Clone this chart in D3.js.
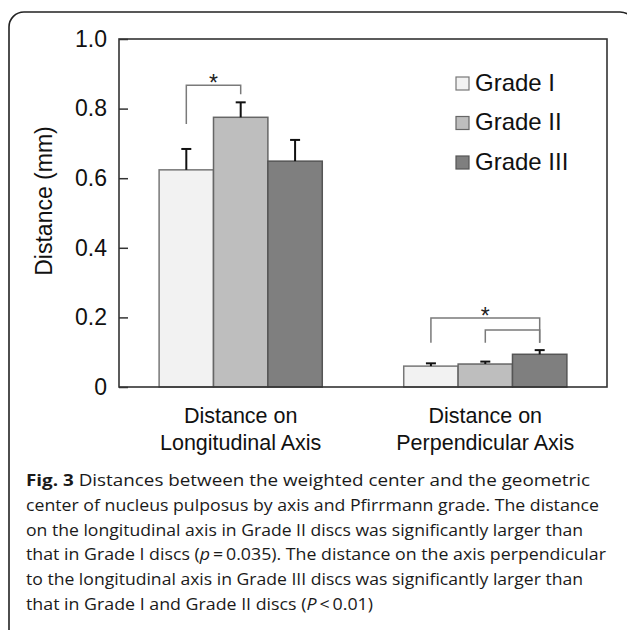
<!DOCTYPE html>
<html>
<head>
<meta charset="utf-8">
<script src="https://cdn.jsdelivr.net/npm/d3@7"></script>
<style>
  body { margin: 0; background: #fff; }
  svg { display: block; }
</style>
</head>
<body>
<div id="chart"></div>
<script>
'use strict';

// values
const categories = [["Distance on", "Longitudinal Axis"], ["Distance on", "Perpendicular Axis"]];
const grades = ["Grade I", "Grade II", "Grade III"];
const longitudinalMeans = [0.624, 0.775, 0.649];
const longitudinalErrors = [0.060, 0.043, 0.061];
const perpendicularMeans = [0.060, 0.066, 0.094];
const perpendicularErrors = [0.008, 0.007, 0.012];
const yTicks = [0, 0.2, 0.4, 0.6, 0.8, 1.0];
// significance brackets: category index, grade from/to, bar level, leg ends
const brackets = [
  { cat: 0, from: 0, to: 1, level: 0.867, legFrom: 0.756, legTo: 0.841, star: true },
  { cat: 1, from: 0, to: 2, level: 0.198, legFrom: 0.127, legTo: 0.127, star: true },
  { cat: 1, from: 1, to: 2, level: 0.164, legFrom: 0.127, legTo: 0.127, star: false }
];
const captionLines = [
  [["Fig. 3", "b"], [" Distances between the weighted center and the geometric", ""]],
  [["center of nucleus pulposus by axis and Pfirrmann grade. The distance", ""]],
  [["on the longitudinal axis in Grade II discs was significantly larger than", ""]],
  [["that in Grade I discs (", ""], ["p", "i"], ["\u2009=\u20090.035). The distance on the axis perpendicular", ""]],
  [["to the longitudinal axis in Grade III discs was significantly larger than", ""]],
  [["that in Grade I and Grade II discs (", ""], ["P", "i"], ["\u2009<\u20090.01)", ""]]
];
const captionWidths = [564, 573, 557, 580, 557, 347];

const fills = ["#f2f2f2", "#bebebe", "#7f7f7f"];
const strokes = ["#777", "#666", "#555"];

const width = 627, height = 630;
const margin = { left: 119, top: 39, right: 20, bottom: 243 };
const plotW = width - margin.left - margin.right;
const plotH = height - margin.top - margin.bottom;

const svg = d3.select('#chart').append('svg')
  .attr('width', width).attr('height', height);

// outer rounded frame
svg.append('rect')
  .attr('x', 9).attr('y', 12)
  .attr('width', 626).attr('height', 640)
  .attr('rx', 15).attr('ry', 15)
  .attr('fill', 'none').attr('stroke', '#222').attr('stroke-width', 1.6);

const g = svg.append('g').attr('transform', `translate(${margin.left},${margin.top})`);

const x0 = d3.scaleBand().domain(d3.range(categories.length))
  .range([0, plotW]).paddingInner(0.333).paddingOuter(0.164);
const x1 = d3.scaleBand().domain(d3.range(grades.length))
  .range([0, x0.bandwidth()]).padding(0);
const y = d3.scaleLinear().domain([0, 1]).range([plotH, 0]);

const means = [longitudinalMeans, perpendicularMeans];
const errors = [longitudinalErrors, perpendicularErrors];

let rows = [];
categories.forEach((c, ci) => {
  grades.forEach((gr, gi) => {
    rows.push({ ci: ci, gi: gi, mean: means[ci][gi], err: errors[ci][gi] });
  });
});

// y axis with inward ticks
const yAxis = d3.axisLeft(y).tickValues(yTicks)
  .tickSizeInner(-9).tickSizeOuter(0).tickPadding(12)
  .tickFormat(d => d === 0 ? "0" : d3.format(".1f")(d));
const ya = g.append('g').call(yAxis);
ya.select('.domain').remove();
ya.selectAll('line').attr('stroke', '#333').attr('stroke-width', 1.5);
ya.selectAll('text')
  .attr('font-family', 'Liberation Sans, Arial, sans-serif')
  .attr('font-size', 23).attr('fill', '#111');

// bars
const barX = d => x0(d.ci) + x1(d.gi);
g.selectAll('.bar').data(rows).enter().append('rect')
  .attr('class', 'bar')
  .attr('x', barX)
  .attr('y', d => y(d.mean))
  .attr('width', x1.bandwidth())
  .attr('height', d => y(0) - y(d.mean))
  .attr('fill', d => fills[d.gi])
  .attr('stroke', d => strokes[d.gi])
  .attr('stroke-width', 1.5);

// error bars (upper only)
const cx = d => barX(d) + x1.bandwidth() / 2;
g.selectAll('.err').data(rows).enter().append('line')
  .attr('x1', cx).attr('x2', cx)
  .attr('y1', d => y(d.mean)).attr('y2', d => y(d.mean + d.err))
  .attr('stroke', '#111').attr('stroke-width', 2);
g.selectAll('.cap').data(rows).enter().append('line')
  .attr('x1', d => cx(d) - 5).attr('x2', d => cx(d) + 5)
  .attr('y1', d => y(d.mean + d.err)).attr('y2', d => y(d.mean + d.err))
  .attr('stroke', '#111').attr('stroke-width', 2);

// significance brackets
const gx = (ci, gi) => x0(ci) + x1(gi) + x1.bandwidth() / 2;
g.selectAll('.bracket').data(brackets).enter().append('path')
  .attr('d', b => {
    const xa = gx(b.cat, b.from), xb = gx(b.cat, b.to);
    return `M${xa},${y(b.legFrom)}V${y(b.level)}H${xb}V${y(b.legTo)}`;
  })
  .attr('fill', 'none').attr('stroke', '#7a7a7a').attr('stroke-width', 1.5);
g.selectAll('.star').data(brackets.filter(b => b.star)).enter().append('text')
  .attr('x', b => (gx(b.cat, b.from) + gx(b.cat, b.to)) / 2)
  .attr('y', b => y(b.level) + 6)
  .attr('text-anchor', 'middle')
  .attr('font-family', 'Liberation Sans, Arial, sans-serif')
  .attr('font-size', 23).attr('fill', '#222')
  .text('*');

// plot frame
g.append('rect')
  .attr('x', 0).attr('y', 0).attr('width', plotW).attr('height', plotH)
  .attr('fill', 'none').attr('stroke', '#333').attr('stroke-width', 1.6);

// category labels
const catLabels = g.selectAll('.cat').data(categories).enter().append('text')
  .attr('text-anchor', 'middle')
  .attr('font-family', 'Liberation Sans, Arial, sans-serif')
  .attr('font-size', 21.5).attr('fill', '#111');
catLabels.selectAll('tspan').data((d, i) => d.map(t => ({ t: t, i: i }))).enter().append('tspan')
  .attr('x', d => x0(d.i) + x0.bandwidth() / 2)
  .attr('y', (d, j) => plotH + 36 + j * 27)
  .text(d => d.t);

// y axis title
svg.append('text')
  .attr('transform', 'translate(52,201)rotate(-90)')
  .attr('text-anchor', 'middle')
  .attr('font-family', 'Liberation Sans, Arial, sans-serif')
  .attr('font-size', 23).attr('fill', '#111')
  .text('Distance (mm)');

// legend
const legend = g.selectAll('.legend').data(grades).enter().append('g')
  .attr('transform', (d, i) => `translate(${456 - margin.left},${77 - margin.top + i * 39.5})`);
legend.append('rect')
  .attr('width', 13).attr('height', 13)
  .attr('fill', (d, i) => fills[i])
  .attr('stroke', (d, i) => strokes[i]).attr('stroke-width', 1.2);
legend.append('text')
  .attr('x', 19).attr('y', 13.5)
  .attr('font-family', 'Liberation Sans, Arial, sans-serif')
  .attr('font-size', 24).attr('fill', '#111')
  .text(d => d);

// caption
const cap = svg.append('g');
captionLines.forEach((line, li) => {
  const t = cap.append('text')
    .attr('x', 26).attr('y', 486 + li * 24.8)
    .attr('font-family', 'Open Sans, sans-serif')
    .attr('font-size', 16.5).attr('fill', '#1a1a1a')
    .attr('textLength', captionWidths[li])
    .attr('lengthAdjust', 'spacingAndGlyphs');
  line.forEach(seg => {
    t.append('tspan')
      .attr('font-weight', seg[1] === 'b' ? 'bold' : null)
      .attr('font-style', seg[1] === 'i' ? 'italic' : null)
      .text(seg[0]);
  });
});
</script>
</body>
</html>
